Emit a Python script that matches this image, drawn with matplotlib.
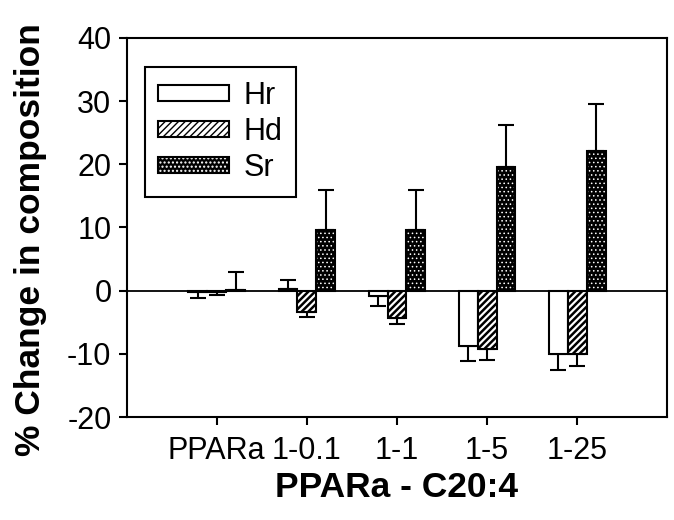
import numpy as np
import matplotlib
matplotlib.use('Agg')
import matplotlib.pyplot as plt

plt.rcParams['font.family'] = ['Liberation Sans', 'DejaVu Sans']
plt.rcParams['axes.unicode_minus'] = False

groups = ['PPARa', '1-0.1', '1-1', '1-5', '1-25']
hr = [-0.2, 0.3, -0.8, -8.8, -10.0]
hr_err = [0.9, 1.4, 1.7, 2.4, 2.6]
hd = [-0.2, -3.3, -4.3, -9.3, -10.1]
hd_err = [0.5, 0.8, 0.9, 1.6, 1.8]
sr = [0.1, 9.6, 9.6, 19.6, 22.1]
sr_err = [2.9, 6.3, 6.3, 6.6, 7.5]

x = np.arange(len(groups))
w = 0.21

fig = plt.figure(figsize=(6.74, 5.2), dpi=100)
ax = fig.add_axes([0.188, 0.198, 0.802, 0.729])

def one_sided(vals, errs):
    lo = [e if v < 0 else 0 for v, e in zip(vals, errs)]
    hi = [e if v >= 0 else 0 for v, e in zip(vals, errs)]
    return [lo, hi]

# Hr - open bars
ax.bar(x - w, hr, w, facecolor='white', edgecolor='black', linewidth=1.5, zorder=3)
# Hd - hatched
with plt.rc_context({'hatch.linewidth': 1.8}):
    ax.bar(x, hd, w, facecolor='white', edgecolor='black', hatch='/////', linewidth=1.5, zorder=3)
    h2 = plt.Rectangle((0, 0), 1, 1, facecolor='white', edgecolor='black', hatch='/////', linewidth=1.5)
# Sr - black with white dots
with plt.rc_context({'hatch.linewidth': 0.6}):
    ax.bar(x + w, sr, w, facecolor='black', edgecolor='white', hatch='....', linewidth=0, zorder=3)
    h3 = plt.Rectangle((0, 0), 1, 1, facecolor='black', edgecolor='white', hatch='....', linewidth=0)
ax.bar(x + w, sr, w, fill=False, edgecolor='black', linewidth=1.5, zorder=4)
h3b = plt.Rectangle((0, 0), 1, 1, fill=False, edgecolor='black', linewidth=1.5)

for off, v, e in [(-w, hr, hr_err), (0, hd, hd_err), (w, sr, sr_err)]:
    ax.errorbar(x + off, v, yerr=one_sided(v, e), fmt='none', ecolor='black',
                elinewidth=1.5, capsize=6, capthick=1.5, zorder=2)

ax.axhline(0, color='black', linewidth=1.3, zorder=1)

ax.set_xlim(-1, 5)
ax.set_ylim(-20, 40)
ax.set_xticks(x)
ax.set_xticklabels(groups)
ax.set_yticks(range(-20, 41, 10))
ax.tick_params(labelsize=22, width=1.5, length=6, direction='out')
ax.tick_params(axis='x', pad=8)
ax.tick_params(axis='y', pad=5)
for s in ax.spines.values():
    s.set_linewidth(1.5)

ax.set_xlabel('PPARa - C20:4', fontsize=25.5, fontweight='bold', labelpad=3)
ax.set_ylabel('% Change in composition', fontsize=25.5, fontweight='bold')
ax.yaxis.set_label_coords(-0.148, 0.467)

# legend proxies
h1 = plt.Rectangle((0, 0), 1, 1, facecolor='white', edgecolor='black', linewidth=1.5)
leg = ax.legend([h1, h2, (h3, h3b)], ['Hr', 'Hd', 'Sr'], loc='upper left',
                bbox_to_anchor=(0.033, 0.923), borderaxespad=0, fontsize=22,
                handlelength=2.3, handleheight=0.45, handletextpad=0.5,
                labelspacing=0.2, fancybox=False, edgecolor='black', framealpha=1,
                borderpad=0.45)
leg.get_frame().set_linewidth(1.5)

fig.savefig('out.png', dpi=100)
